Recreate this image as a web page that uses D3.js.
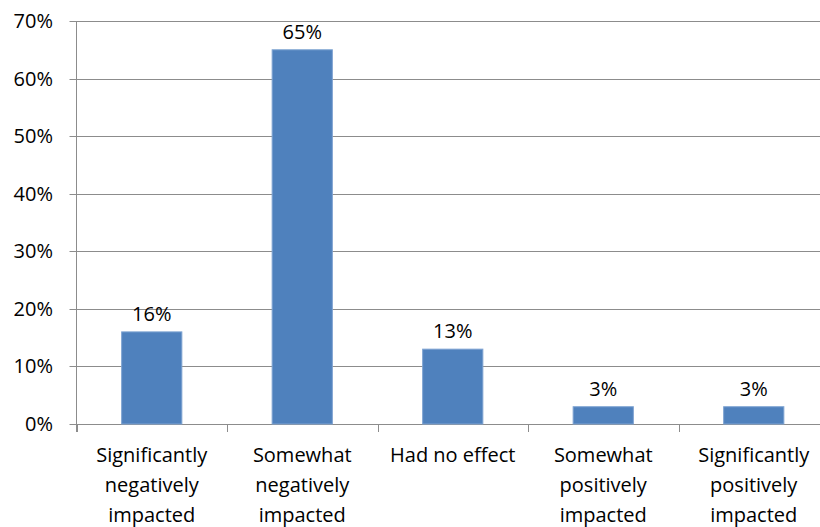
<!DOCTYPE html>
<meta charset="utf-8">
<style>
  body { margin: 0; background: #fff; }
  text { font-family: "Open Sans", Lato, sans-serif; font-size: 20px; fill: #000; }
</style>
<body>
<script src="https://cdn.jsdelivr.net/npm/d3@7"></script>
<script>
var categories = [
  ["Significantly", "negatively", "impacted"],
  ["Somewhat", "negatively", "impacted"],
  ["Had no effect"],
  ["Somewhat", "positively", "impacted"],
  ["Significantly", "positively", "impacted"]
];
var values = [0.16, 0.65, 0.13, 0.03, 0.03];
var yTicks = [0, 0.1, 0.2, 0.3, 0.4, 0.5, 0.6, 0.7];

var width = 820, height = 527;
var plotLeft = 76.5, plotRight = 829, plotTop = 21, plotBottom = 424;

var svg = d3.select("body").append("svg")
  .attr("width", width)
  .attr("height", height);

var x = d3.scaleBand()
  .domain(d3.range(values.length))
  .range([plotLeft, plotRight])
  .paddingInner(0.6)
  .paddingOuter(0.3);

var y = d3.scaleLinear()
  .domain([0, 0.7])
  .range([plotBottom, plotTop]);

// gridlines
svg.append("g").selectAll("line")
  .data(yTicks)
  .enter().append("line")
  .attr("x1", plotLeft - 7)
  .attr("x2", plotRight)
  .attr("y1", function(d) { return Math.round(y(d)) + 0.5; })
  .attr("y2", function(d) { return Math.round(y(d)) + 0.5; })
  .attr("stroke", "#8c8c8c")
  .attr("stroke-width", 1);

// y labels
svg.append("g").selectAll("text")
  .data(yTicks)
  .enter().append("text")
  .attr("x", 53)
  .attr("y", function(d) { return y(d); })
  .attr("dy", "0.35em")
  .attr("text-anchor", "end")
  .text(d3.format(".0%"));

// y axis line
svg.append("line")
  .attr("x1", plotLeft).attr("x2", plotLeft)
  .attr("y1", plotTop).attr("y2", plotBottom + 8)
  .attr("stroke", "#8c8c8c");

// x category ticks
svg.append("g").selectAll("line")
  .data(d3.range(values.length + 1))
  .enter().append("line")
  .attr("x1", function(i) { return Math.round(plotLeft + i * x.step()) + 0.5; })
  .attr("x2", function(i) { return Math.round(plotLeft + i * x.step()) + 0.5; })
  .attr("y1", plotBottom)
  .attr("y2", plotBottom + 8)
  .attr("stroke", "#8c8c8c");

// bars
svg.append("g").selectAll("rect")
  .data(values)
  .enter().append("rect")
  .attr("x", function(d, i) { return x(i); })
  .attr("y", function(d) { return y(d); })
  .attr("width", x.bandwidth())
  .attr("height", function(d) { return plotBottom - y(d); })
  .attr("fill", "#4f81bd")
  .attr("stroke", "#7ea3d2")
  .attr("stroke-width", 1);

// data labels
svg.append("g").selectAll("text")
  .data(values)
  .enter().append("text")
  .attr("x", function(d, i) { return x(i) + x.bandwidth() / 2; })
  .attr("y", function(d) { return y(d) - 11; })
  .attr("text-anchor", "middle")
  .text(d3.format(".0%"));

// category labels
var cat = svg.append("g").selectAll("text")
  .data(categories)
  .enter().append("text")
  .attr("x", function(d, i) { return x(i) + x.bandwidth() / 2; })
  .attr("y", 462)
  .attr("text-anchor", "middle");

cat.selectAll("tspan")
  .data(function(d) { return d; })
  .enter().append("tspan")
  .attr("x", function() { return d3.select(this.parentNode).attr("x"); })
  .attr("dy", function(d, i) { return i ? 30 : 0; })
  .text(function(d) { return d; });
</script>
</body>
